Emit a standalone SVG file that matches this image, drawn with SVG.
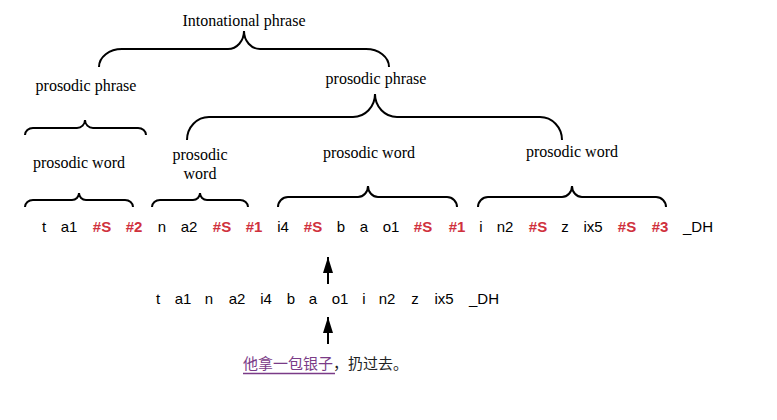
<svg xmlns="http://www.w3.org/2000/svg" width="777" height="420" viewBox="0 0 777 420">
<style>
.lbl{font-family:"Liberation Serif","Times New Roman",serif;font-size:16px;fill:#000;text-anchor:middle}
.ph{font-family:"Liberation Sans",Arial,sans-serif;font-size:15px;fill:#000;text-anchor:middle}
.red{fill:#d0313d;font-weight:bold}
.brace{fill:none;stroke:#000;stroke-width:2}
.arr{stroke:#000;stroke-width:2}
.cn{font-family:"Noto Sans CJK SC","Noto Sans",sans-serif;font-size:15px;fill:#222}
</style>
<defs>
<marker id="ah" markerWidth="16" markerHeight="10" refX="16" refY="5" orient="auto" markerUnits="userSpaceOnUse" viewBox="0 0 16 10">
<path d="M0,0 L16,5 L0,10 Z" fill="#000"/>
</marker>
</defs>
<rect width="777" height="420" fill="#fff"/>
<g id="intonational">
<text class="lbl" x="244" y="26">Intonational phrase</text>
<path class="brace" d="M99,67 A23,18 0 0 1 122,49 L228,49 A16,18 0 0 0 244,31 A16,18 0 0 0 260,49 L366,49 A23,18 0 0 1 389,67"/>
</g>
<g id="pphrase1">
<text class="lbl" x="86" y="91">prosodic phrase</text>
<path class="brace" d="M25,135 A8,7 0 0 1 33,128 L77,128 A8,8 0 0 0 85,120 A8,8 0 0 0 93,128 L138,128 A8,7 0 0 1 146,135"/>
</g>
<g id="pphrase2">
<text class="lbl" x="376" y="84">prosodic phrase</text>
<path class="brace" d="M187,140 A22,23 0 0 1 209,117 L353,117 A22,23 0 0 0 375,94 A22,23 0 0 0 397,117 L540,117 A22,23 0 0 1 562,140"/>
</g>
<g id="pword1">
<text class="lbl" x="79" y="168">prosodic word</text>
<path class="brace" d="M25,207 A8,7 0 0 1 33,200 L72,200 A7,7 0 0 0 79,193 A7,7 0 0 0 86,200 L125,200 A8,7 0 0 1 133,207"/>
</g>
<g id="pword2">
<text class="lbl" x="200" y="160">prosodic</text>
<text class="lbl" x="200" y="179">word</text>
<path class="brace" d="M152,207 A8,7 0 0 1 160,200 L193,200 A7,7 0 0 0 200,193 A7,7 0 0 0 207,200 L240,200 A8,7 0 0 1 248,207"/>
</g>
<g id="pword3">
<text class="lbl" x="369" y="158">prosodic word</text>
<path class="brace" d="M278,207 A10,10 0 0 1 288,197 L358,197 A10,11 0 0 0 368,186 A10,11 0 0 0 378,197 L447,197 A10,10 0 0 1 457,207"/>
</g>
<g id="pword4">
<text class="lbl" x="572" y="157">prosodic word</text>
<path class="brace" d="M478,207 A10,10 0 0 1 488,197 L562,197 A10,11 0 0 0 572,186 A10,11 0 0 0 582,197 L656,197 A10,10 0 0 1 666,207"/>
</g>
<g id="labeled-seq">
<text class="ph" x="44" y="232">t</text>
<text class="ph" x="69" y="232">a1</text>
<text class="ph red" x="102" y="232">#S</text>
<text class="ph red" x="134" y="232">#2</text>
<text class="ph" x="162" y="232">n</text>
<text class="ph" x="189" y="232">a2</text>
<text class="ph red" x="222" y="232">#S</text>
<text class="ph red" x="254" y="232">#1</text>
<text class="ph" x="283" y="232">i4</text>
<text class="ph red" x="313" y="232">#S</text>
<text class="ph" x="341" y="232">b</text>
<text class="ph" x="364" y="232">a</text>
<text class="ph" x="391" y="232">o1</text>
<text class="ph red" x="423" y="232">#S</text>
<text class="ph red" x="457" y="232">#1</text>
<text class="ph" x="481" y="232">i</text>
<text class="ph" x="505" y="232">n2</text>
<text class="ph red" x="538" y="232">#S</text>
<text class="ph" x="565" y="232">z</text>
<text class="ph" x="593" y="232">ix5</text>
<text class="ph red" x="627" y="232">#S</text>
<text class="ph red" x="660" y="232">#3</text>
<text class="ph" x="698" y="232">_DH</text>
</g>
<g id="phone-seq">
<text class="ph" x="158" y="304">t</text>
<text class="ph" x="183" y="304">a1</text>
<text class="ph" x="209" y="304">n</text>
<text class="ph" x="237" y="304">a2</text>
<text class="ph" x="266" y="304">i4</text>
<text class="ph" x="291" y="304">b</text>
<text class="ph" x="313" y="304">a</text>
<text class="ph" x="340" y="304">o1</text>
<text class="ph" x="364" y="304">i</text>
<text class="ph" x="387" y="304">n2</text>
<text class="ph" x="415" y="304">z</text>
<text class="ph" x="444" y="304">ix5</text>
<text class="ph" x="484" y="304">_DH</text>
</g>
<g id="sentence">
<text class="cn" x="243" y="369"><tspan fill="#7a3b87">他拿一包银子</tspan>，扔过去。</text>
<line x1="243" y1="373.5" x2="335" y2="373.5" stroke="#7a3b87" stroke-width="1.5"/>
</g>
<g id="connectors">
<line class="arr" x1="328" y1="284" x2="328" y2="257" marker-end="url(#ah)"/>
<line class="arr" x1="328" y1="344" x2="328" y2="317" marker-end="url(#ah)"/>
</g>
</svg>
